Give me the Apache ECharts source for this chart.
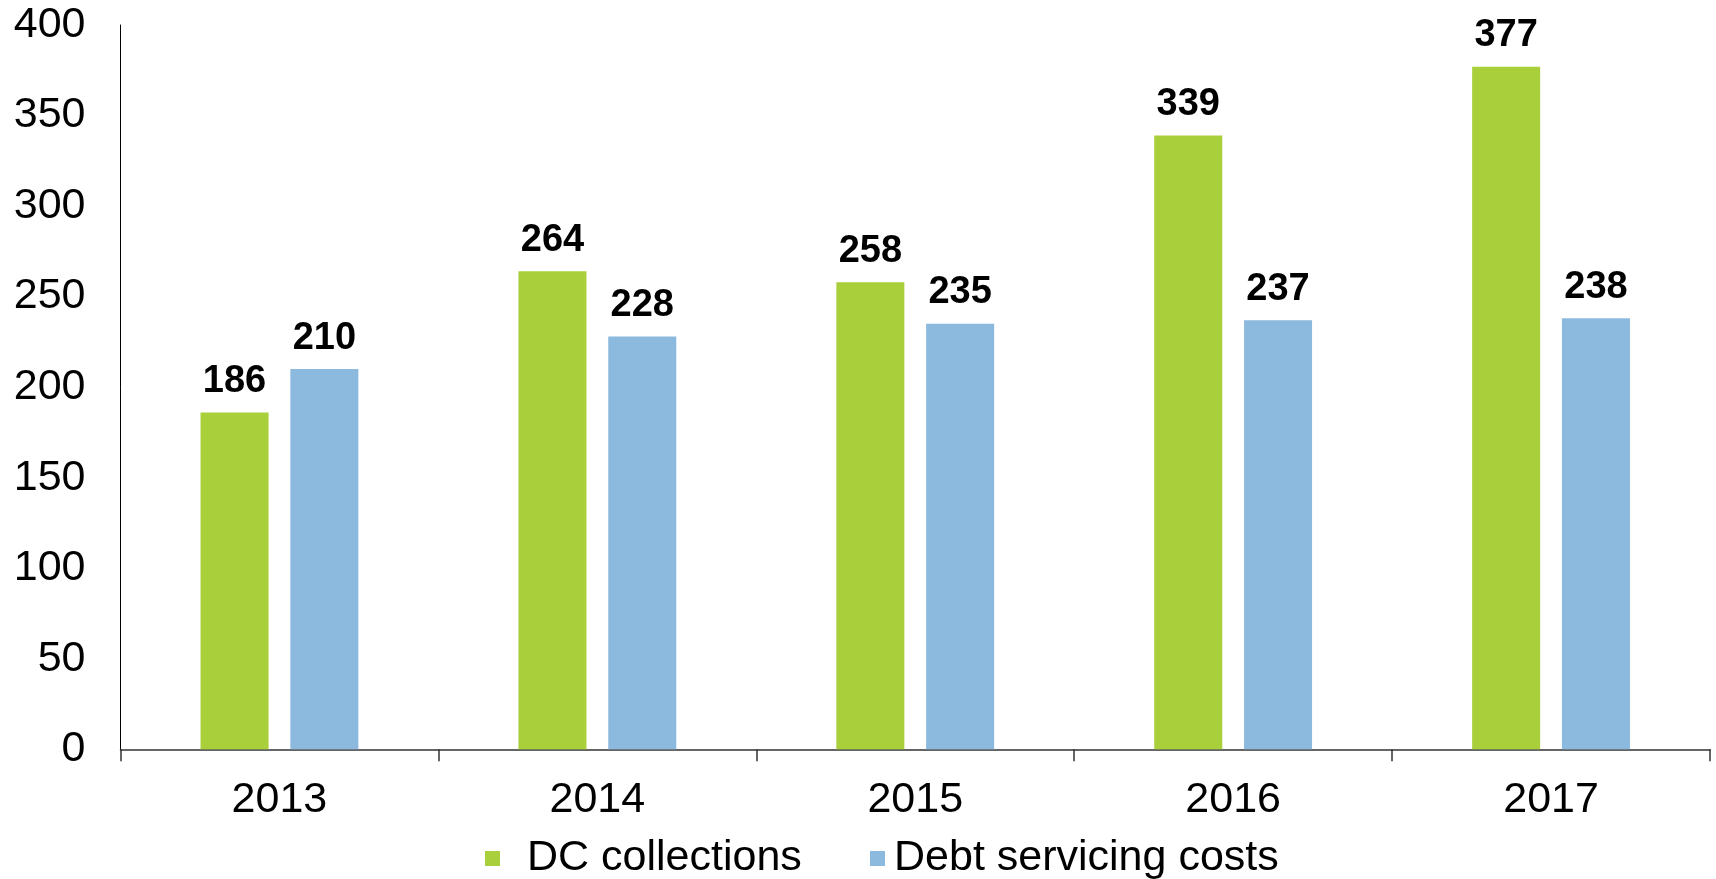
<!DOCTYPE html>
<html>
<head>
<meta charset="utf-8">
<script src="https://cdn.jsdelivr.net/npm/echarts@6/dist/echarts.min.js"></script>
<style>
html,body{margin:0;padding:0;background:#fff;}
#chart{width:1716px;height:879px;}
</style>
</head>
<body>
<div id="chart"></div>
<script>
const categories = ['2013', '2014', '2015', '2016', '2017'];
const dcCollections = [186, 264, 258, 339, 377];
const debtServicing = [210, 228, 235, 237, 238];
const seriesNames = ['DC collections', 'Debt servicing costs'];

const FONT = '"Liberation Sans", Arial, sans-serif';
const chart = echarts.init(document.getElementById('chart'));
chart.setOption({
  animation: false,
  backgroundColor: '#fff',
  textStyle: { fontFamily: FONT },
  grid: { left: 120.5, right: 6, top: 25, bottom: 129.7, containLabel: false },
  legend: [
    { data: [seriesNames[0]], left: 480, top: 832, itemWidth: 15, itemHeight: 15, itemGap: 0,
      icon: 'rect', textStyle: { fontSize: 43, color: '#000', fontFamily: FONT, padding: [0, 0, 0, 22] } },
    { data: [seriesNames[1]], left: 865, top: 832, itemWidth: 15, itemHeight: 15, itemGap: 0,
      icon: 'rect', textStyle: { fontSize: 43, color: '#000', fontFamily: FONT, padding: [0, 0, 0, 4] } }
  ],
  xAxis: {
    type: 'category',
    data: categories,
    boundaryGap: true,
    axisLine: { lineStyle: { color: '#333', width: 1.5 } },
    axisTick: { show: true, length: 12, lineStyle: { color: '#333', width: 1.5 } },
    axisLabel: { fontSize: 43, color: '#000', margin: 29, fontFamily: FONT },
    splitLine: { show: false }
  },
  yAxis: {
    type: 'value',
    min: 0, max: 400, interval: 50,
    axisLine: { show: true, lineStyle: { color: '#000', width: 1 } },
    axisTick: { show: false },
    splitLine: { show: false },
    axisLabel: { fontSize: 43, color: '#000', margin: 35, fontFamily: FONT }
  },
  series: [
    {
      name: seriesNames[0], type: 'bar', data: dcCollections,
      barWidth: '21.4%', barGap: '32%',
      itemStyle: { color: '#A9CF3B' },
      label: { show: true, position: 'top', distance: 12, fontSize: 38, fontWeight: 'bold', color: '#000', fontFamily: FONT }
    },
    {
      name: seriesNames[1], type: 'bar', data: debtServicing,
      barWidth: '21.4%', barGap: '32%',
      itemStyle: { color: '#8CB9DE' },
      label: { show: true, position: 'top', distance: 12, fontSize: 38, fontWeight: 'bold', color: '#000', fontFamily: FONT }
    }
  ]
});
</script>
</body>
</html>
